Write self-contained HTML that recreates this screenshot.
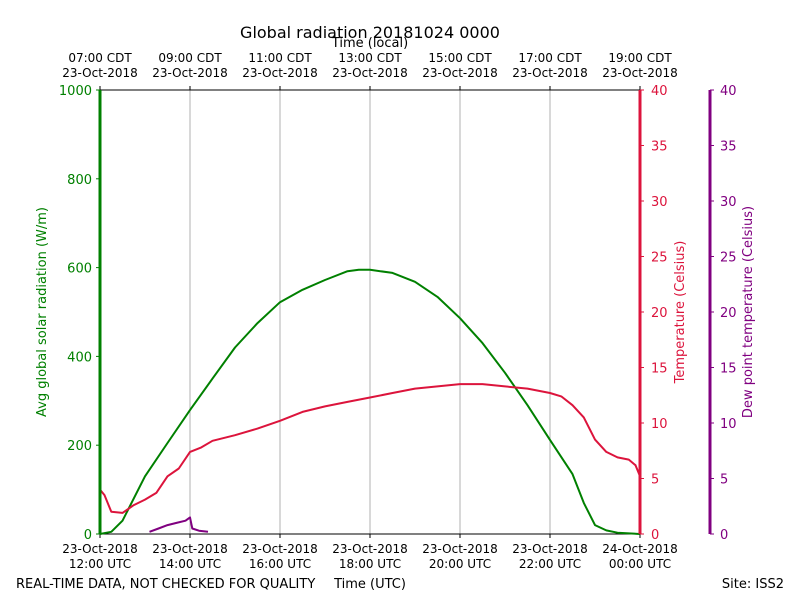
<!DOCTYPE html>
<html><head><meta charset="utf-8"><style>
body{margin:0;background:#fff;font-family:"Liberation Sans","DejaVu Sans",sans-serif}
svg text{font-family:"DejaVu Sans","Liberation Sans",sans-serif}
</style></head><body>
<svg id="c" width="800" height="600" xmlns="http://www.w3.org/2000/svg">
<rect width="800" height="600" fill="#fff"/>
</svg>
<script>
const hours=[0,2,4,6,8,10,12];
const bottomTicks=["12:00 UTC","14:00 UTC","16:00 UTC","18:00 UTC","20:00 UTC","22:00 UTC","00:00 UTC"];
const bottomDates=["23-Oct-2018","23-Oct-2018","23-Oct-2018","23-Oct-2018","23-Oct-2018","23-Oct-2018","24-Oct-2018"];
const topTicks=["07:00 CDT","09:00 CDT","11:00 CDT","13:00 CDT","15:00 CDT","17:00 CDT","19:00 CDT"];
const radTicks=[0,200,400,600,800,1000];
const tempTicks=[0,5,10,15,20,25,30,35,40];
const radT=[0,0.25,0.5,1,1.5,2,2.5,3,3.5,4,4.5,5,5.5,5.75,6,6.5,7,7.5,8,8.5,9,9.5,10,10.5,10.75,11,11.25,11.5,12];
const radV=[0,5,30,130,205,279,350,420,475,522,550,572,592,595,595,588,568,534,486,430,363,290,212,135,70,20,8,3,0];
const tempT=[0,0.1,0.25,0.5,0.75,1,1.25,1.5,1.75,2,2.25,2.5,3,3.5,4,4.5,5,5.5,6,6.5,7,7.5,8,8.5,9,9.5,10,10.25,10.5,10.75,11,11.25,11.5,11.75,11.9,12];
const tempV=[4.0,3.5,2.0,1.9,2.6,3.1,3.7,5.2,5.9,7.4,7.8,8.4,8.9,9.5,10.2,11.0,11.5,11.9,12.3,12.7,13.1,13.3,13.5,13.5,13.3,13.1,12.7,12.4,11.6,10.5,8.5,7.4,6.9,6.7,6.2,5.2];
const dewT=[1.1,1.3,1.5,1.7,1.9,2.0,2.05,2.2,2.4];
const dewV=[0.2,0.5,0.8,1.0,1.2,1.5,0.5,0.3,0.2];

const svg=document.getElementById('c');const NS='http://www.w3.org/2000/svg';
const X0=100,X1=640,Y0=534,Y1=90;
const x=t=>X0+(t/12)*(X1-X0);
const yR=v=>Y0-(v/1000)*(Y0-Y1);
const yT=v=>Y0-(v/40)*(Y0-Y1);
function el(tag,a,txt){const e=document.createElementNS(NS,tag);for(const k in a)e.setAttribute(k,a[k]);if(txt!==undefined)e.textContent=txt;svg.appendChild(e);return e;}
function line(x1,y1,x2,y2,s,w){return el('line',{x1,y1,x2,y2,stroke:s,'stroke-width':w});}
function text(tx,ty,s,o){return el('text',Object.assign({x:tx,y:ty,'font-size':12,'text-anchor':'middle',fill:'#000'},o||{}),s);}

hours.forEach((h,i)=>{
 if(i>0&&i<hours.length-1){const g=line(x(h),Y1,x(h),Y0,'#b0b0b0',1);
 
 }
 line(x(h),Y0,x(h),Y0+4,'#000',1);line(x(h),Y1,x(h),Y1-4,'#000',1);
 const a=text(x(h),553,bottomDates[i]);
 
 
 const b=text(x(h),568,bottomTicks[i]);
 
 
 const c=text(x(h),62,topTicks[i]);
 
 
 const d=text(x(h),77,'23-Oct-2018');
 
 
});
line(X0,Y1,X1,Y1,'#000',1);line(X0,Y0,X1,Y0,'#000',1);
radTicks.forEach(v=>{line(X0-4,yR(v),X0,yR(v),'green',1);
 const t=text(X0-8,yR(v)+5,String(v),{'text-anchor':'end',fill:'green','font-size':13});
 
 });
tempTicks.forEach(v=>{line(X1,yT(v),X1+4,yT(v),'crimson',1);
 const t=text(X1+11,yT(v)+5,String(v),{'text-anchor':'start',fill:'crimson','font-size':13});
 
 
 line(710,yT(v),714,yT(v),'purple',1);
 const u=text(720,yT(v)+5,String(v),{'text-anchor':'start',fill:'purple','font-size':13});
 
 });
function path(ts,vs,fy,col,name){const d=ts.map((t,i)=>(i?'L':'M')+x(t).toFixed(1)+' '+fy(vs[i]).toFixed(1)).join(' ');
 const p=el('path',{d,fill:'none',stroke:col,'stroke-width':2,'stroke-linejoin':'round'});
 
 }
path(radT,radV,yR,'green','radiation-line');
path(tempT,tempV,yT,'crimson','temperature-line');
path(dewT,dewV,yT,'purple','dewpoint-line');
const s1=line(X0,Y1,X0,Y0,'green',3);
const s2=line(X1,Y1,X1,Y0,'crimson',3);
const s3=line(710,Y1,710,Y0,'purple',3);
let t;
t=text(370,38,'Global radiation 20181024 0000',{'font-size':16});
t=text(370,47,'Time (local)',{'font-size':13});
t=text(370,588,'Time (UTC)',{'font-size':13});
t=text(16,588,'REAL-TIME DATA, NOT CHECKED FOR QUALITY',{'font-size':13,'text-anchor':'start'});
t=text(784,588,'Site: ISS2',{'font-size':13,'text-anchor':'end'});
t=text(0,0,'Avg global solar radiation (W/m)',{'font-size':13,fill:'green',transform:'translate(46,312) rotate(-90)'});
t=text(0,0,'Temperature (Celsius)',{'font-size':13,fill:'crimson',transform:'translate(684,312) rotate(-90)'});
t=text(0,0,'Dew point temperature (Celsius)',{'font-size':13,fill:'purple',transform:'translate(752,312) rotate(-90)'});
</script>
</body></html>
